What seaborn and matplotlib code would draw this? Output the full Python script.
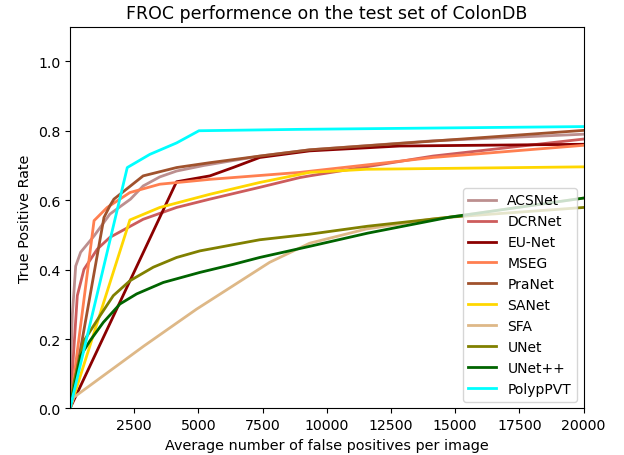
import pandas as pd
import seaborn as sns
import matplotlib.pyplot as plt

# --- datos (FP promedio por imagen, TPR) ---
modelos = ['ACSNet', 'DCRNet', 'EU-Net', 'MSEG', 'PraNet',
           'SANet', 'SFA', 'UNet', 'UNet++', 'PolypPVT']
colores = ['rosybrown', 'indianred', 'darkred', 'coral', 'sienna',
           'gold', 'burlywood', 'olive', 'darkgreen', 'cyan']

acsnet_x = [0, 39, 92, 222, 415, 937, 1555, 2357, 2850, 3497, 4154, 5216, 7390, 9332, 14133, 20000]
acsnet_y = [0, 0.15, 0.27, 0.41, 0.45, 0.497, 0.56, 0.603, 0.641, 0.667, 0.684, 0.70, 0.727, 0.745, 0.771, 0.79]

dcrnet_x = [0, 285, 546, 1063, 1555, 2850, 4149, 5448, 7390, 8945, 9332, 14133, 20000]
dcrnet_y = [0, 0.325, 0.401, 0.459, 0.493, 0.545, 0.579, 0.603, 0.637, 0.665, 0.67, 0.727, 0.776]

eunet_x = [0, 126, 4149, 5448, 6351, 7390, 9332, 12838, 20000]
eunet_y = [0, 0.02, 0.653, 0.67, 0.694, 0.723, 0.742, 0.756, 0.761]

mseg_x = [0, 937, 1449, 2333, 3497, 5448, 8945, 14133, 20000]
mseg_y = [0, 0.541, 0.579, 0.622, 0.646, 0.66, 0.68, 0.723, 0.758]

pranet_x = [0, 1323, 1555, 1710, 2357, 2850, 4154, 5448, 7390, 9332, 20000]
pranet_y = [0, 0.55, 0.584, 0.603, 0.641, 0.67, 0.694, 0.708, 0.727, 0.745, 0.801]

sanet_x = [0, 2333, 3497, 5448, 7390, 9332, 11544, 20000]
sanet_y = [0, 0.543, 0.579, 0.617, 0.651, 0.68, 0.689, 0.696]

sfa_x = [0, 145, 2879, 4927, 7776, 9332, 11544, 14133, 14780, 20000]
sfa_y = [0, 0.032, 0.18, 0.286, 0.421, 0.476, 0.517, 0.546, 0.551, 0.606]

unet_x = [0, 156, 545, 1168, 1687, 2336, 3245, 4154, 5062, 7390, 9332, 11592, 14780, 20000]
unet_y = [0, 0.076, 0.195, 0.267, 0.325, 0.368, 0.407, 0.435, 0.454, 0.486, 0.502, 0.525, 0.551, 0.579]

unetpp_x = [0, 415, 779, 1298, 1947, 2596, 3634, 5062, 6351, 7390, 9332, 11592, 14780, 20000]
unetpp_y = [0, 0.152, 0.195, 0.248, 0.301, 0.33, 0.363, 0.392, 0.415, 0.435, 0.467, 0.505, 0.551, 0.606]

pvt_x = [0, 2231, 3111, 4154, 5023, 8945, 20000]
pvt_y = [0, 0.694, 0.732, 0.765, 0.80, 0.804, 0.812]

xs = [acsnet_x, dcrnet_x, eunet_x, mseg_x, pranet_x, sanet_x, sfa_x, unet_x, unetpp_x, pvt_x]
ys = [acsnet_y, dcrnet_y, eunet_y, mseg_y, pranet_y, sanet_y, sfa_y, unet_y, unetpp_y, pvt_y]

# armamos un dataframe largo para seaborn
filas = []
for m, x, y in zip(modelos, xs, ys):
    for a, b in zip(x, y):
        filas.append({'Modelo': m, 'FP': a, 'TPR': b})
df = pd.DataFrame(filas)

fig = plt.figure(figsize=(6.24, 4.56), dpi=100)
ax = fig.add_axes([0.1122, 0.102, 0.8229, 0.8375])

sns.lineplot(data=df, x='FP', y='TPR', hue='Modelo', hue_order=modelos,
             palette=dict(zip(modelos, colores)), sort=False, estimator=None,
             linewidth=2, ax=ax)

ax.set_xlim(1, 20000)
ax.set_ylim(0, 1.1)
ax.set_xticks([2500, 5000, 7500, 10000, 12500, 15000, 17500, 20000])
ax.set_yticks([0.0, 0.2, 0.4, 0.6, 0.8, 1.0])
ax.tick_params(labelsize=10.2)
ax.set_title('FROC performence on the test set of ColonDB', fontsize=12.5)
ax.set_xlabel('Average number of false positives per image', fontsize=10.4)
ax.set_ylabel('True Positive Rate', fontsize=10.4)
ax.legend(loc='lower right', fontsize=10)

plt.savefig('out.png', dpi=100)
